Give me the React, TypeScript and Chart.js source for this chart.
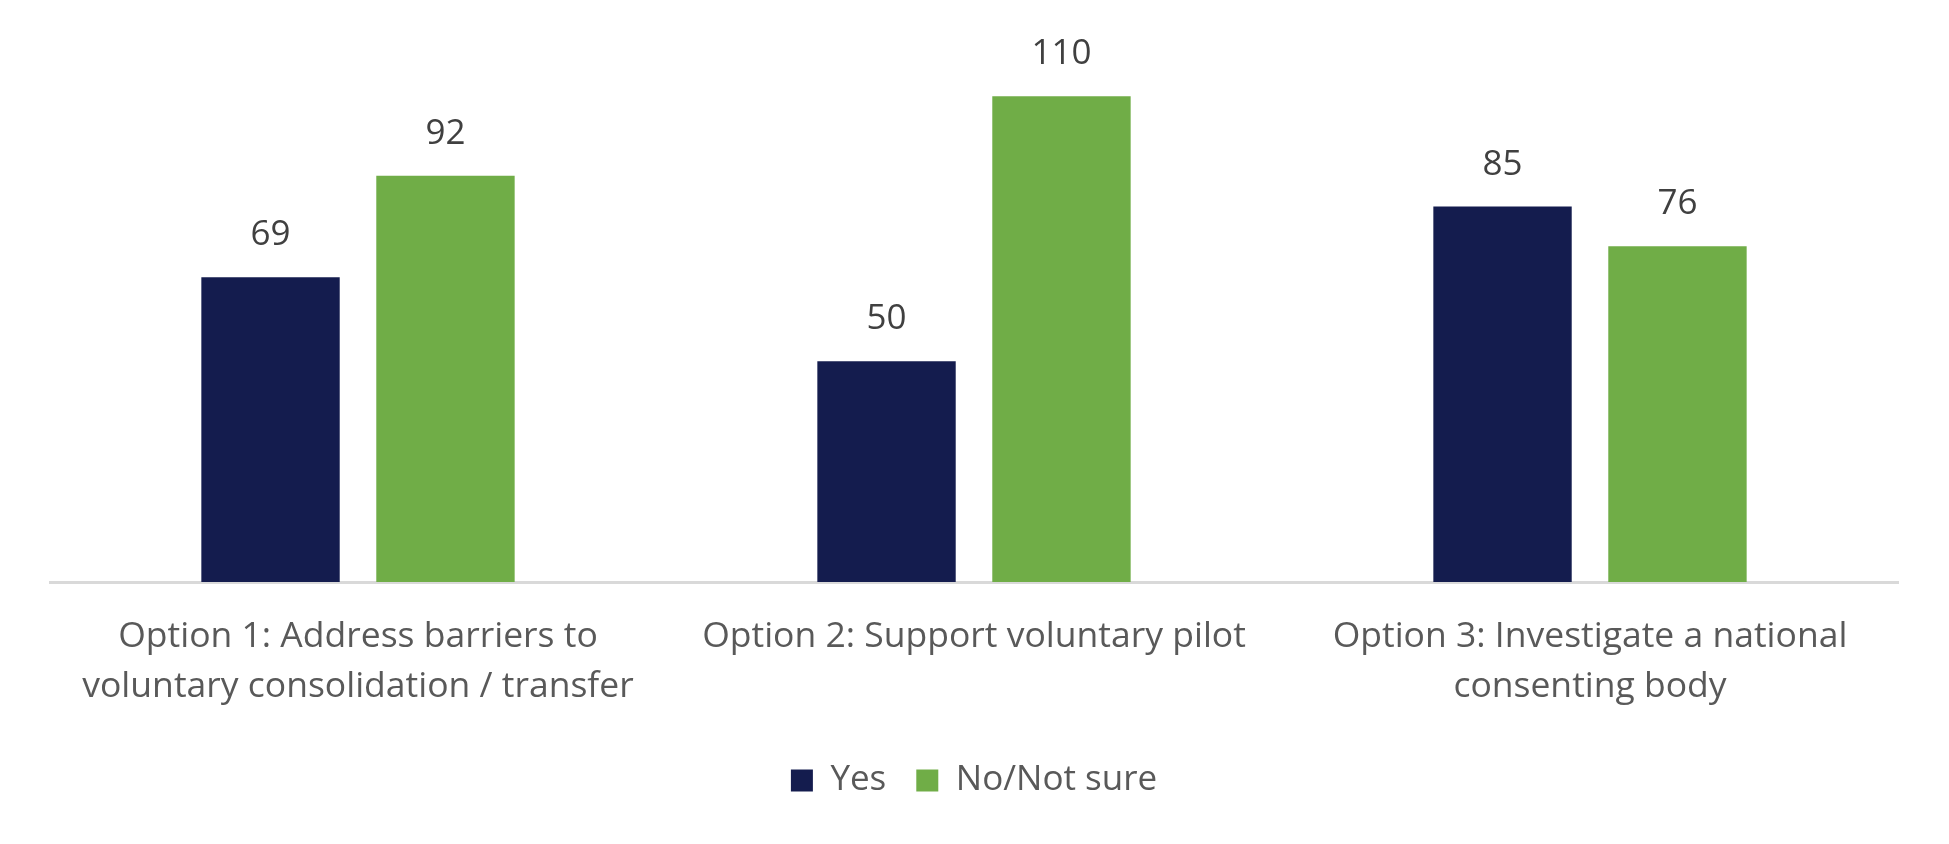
import React, { useEffect, useRef } from "react";
import { Chart, registerables } from "chart.js";

Chart.register(...registerables);

const categories: string[][] = [
  ["Option 1: Address barriers to", "voluntary consolidation / transfer"],
  ["Option 2: Support voluntary pilot"],
  ["Option 3: Investigate a national", "consenting body"],
];
const yesValues = [69, 50, 85];
const noValues = [92, 110, 76];
const seriesNames = ["Yes", "No/Not sure"];

const FONT = "'Open Sans', 'Noto Sans', sans-serif";

const valueLabels = {
  id: "valueLabels",
  afterDatasetsDraw(chart: any) {
    const ctx = chart.ctx;
    ctx.save();
    ctx.font = `35px ${FONT}`;
    ctx.fillStyle = "#404040";
    ctx.textAlign = "center";
    ctx.textBaseline = "alphabetic";
    chart.data.datasets.forEach((ds: any, i: number) => {
      const meta = chart.getDatasetMeta(i);
      meta.data.forEach((bar: any, j: number) => {
        ctx.fillText(String(ds.data[j]), bar.x, bar.y - 32);
      });
    });
    ctx.restore();
  },
};

export default function App() {
  const ref = useRef<HTMLCanvasElement>(null);
  useEffect(() => {
    if (!ref.current) return;
    const chart = new Chart(ref.current, {
      type: "bar",
      data: {
        labels: categories,
        datasets: [
          {
            label: seriesNames[0],
            data: yesValues,
            backgroundColor: "#141C4E",
            categoryPercentage: 0.568,
            barPercentage: 0.791,
          },
          {
            label: seriesNames[1],
            data: noValues,
            backgroundColor: "#70AD47",
            categoryPercentage: 0.568,
            barPercentage: 0.791,
          },
        ],
      },
      options: {
        animation: false,
        responsive: true,
        maintainAspectRatio: false,
        layout: { padding: { left: 50, right: 51, top: 52, bottom: 36 } },
        scales: {
          x: {
            grid: { display: false, drawTicks: false },
            border: { display: true, color: "#D9D9D9", width: 3 },
            ticks: {
              color: "#595959",
              font: { family: FONT, size: 35.5, lineHeight: 1.41 },
              padding: 30,
              maxRotation: 0,
              autoSkip: false,
            },
            afterFit: (scale: any) => {
              scale.height = 151;
            },
          },
          y: {
            display: false,
            min: 0,
            max: 120,
          },
        },
        plugins: {
          legend: {
            position: "bottom",
            labels: {
              color: "#595959",
              font: { family: FONT, size: 35 },
              boxWidth: 22,
              boxHeight: 22,
              padding: 30,
            },
          },
          tooltip: { enabled: false },
        },
      },
      plugins: [valueLabels],
    });
    return () => chart.destroy();
  }, []);
  return (
    <div
      style={{
        position: "fixed",
        left: 0,
        top: 0,
        width: 1949,
        height: 844,
        background: "#fff",
      }}
    >
      <canvas ref={ref} />
    </div>
  );
}
